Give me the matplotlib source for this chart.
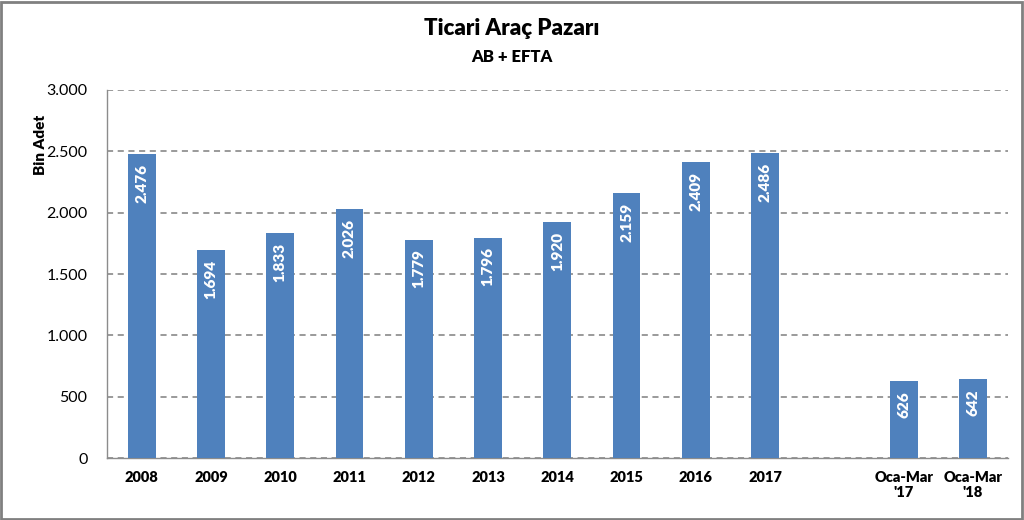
import matplotlib
matplotlib.use("Agg")
from matplotlib import pyplot as plt
from matplotlib.ticker import FuncFormatter
from matplotlib.patches import Rectangle

# veriler (bin adet)
categories = ["2008", "2009", "2010", "2011", "2012", "2013", "2014", "2015", "2016", "2017",
              "Oca-Mar\n'17", "Oca-Mar\n'18"]
values = [2476, 1694, 1833, 2026, 1779, 1796, 1920, 2159, 2409, 2486, 626, 642]
positions = [0, 1, 2, 3, 4, 5, 6, 7, 8, 9, 11, 12]
yticks = [0, 500, 1000, 1500, 2000, 2500, 3000]

plt.rcParams['font.family'] = ['Lato', 'DejaVu Sans']

bar_color = "#4F81BD"

fig = plt.figure(figsize=(10.24, 5.2), dpi=100)
ax = fig.add_axes([0.1045, 0.119, 0.8795, 0.708])

ax.bar(positions, values, width=0.4, color=bar_color, zorder=3)

def tr_fmt(v):
    return f"{int(v):,}".replace(",", ".")

for x, v in zip(positions, values):
    ax.annotate(tr_fmt(v), (x, v), xytext=(0, -7), textcoords="offset points",
                rotation=90, ha="center", va="top", color="white",
                fontsize=11, fontweight="heavy", zorder=4)

ax.set_xlim(-0.5, 12.5)
ax.set_ylim(0, 3000)
ax.set_yticks(yticks)
ax.yaxis.set_major_formatter(FuncFormatter(lambda v, p: tr_fmt(v)))
ax.set_xticks(positions)
ax.set_xticklabels(categories, fontweight="heavy", fontsize=10.5)
ax.tick_params(axis="y", labelsize=11.5, length=0, pad=14)
ax.tick_params(axis="x", length=0, pad=9)

ax.grid(axis="y", color="#7F7F7F", linestyle=(0, (4, 3)), linewidth=1.1, zorder=0)
for s in ["top", "right"]:
    ax.spines[s].set_visible(False)
for s in ["left", "bottom"]:
    ax.spines[s].set_color("#8C8C8C")
    ax.spines[s].set_linewidth(1)

ax.set_ylabel("Bin Adet", fontweight="heavy", fontsize=11)
ax.yaxis.set_label_coords(-0.067, 0.85)

fig.text(0.5, 0.945, "Ticari Araç Pazarı", ha="center", va="center",
         fontsize=16, fontweight="heavy")
fig.text(0.5, 0.89, "AB + EFTA", ha="center", va="center",
         fontsize=12, fontweight="heavy")

# çerçeve
fig.patches.append(Rectangle((0.001, 0.002), 0.997, 0.995, transform=fig.transFigure,
                             fill=False, edgecolor="#808080", linewidth=2))

fig.savefig("out.png", dpi=100)
